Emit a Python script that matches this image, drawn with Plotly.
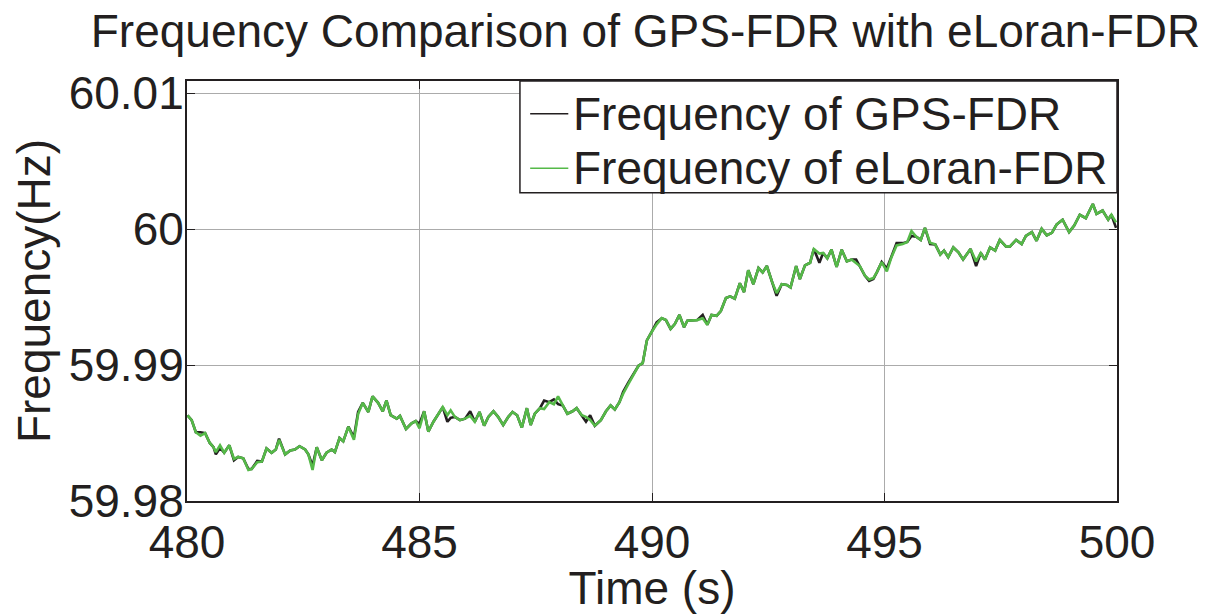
import plotly.graph_objects as go

# Sample times (s) and measured frequencies (Hz) for both recorders
time_s = [
    480.01, 480.10, 480.19, 480.29, 480.39, 480.49, 480.57, 480.62, 480.71, 480.80,
    480.91, 481.01, 481.10, 481.21, 481.32, 481.39, 481.51, 481.61, 481.71, 481.82,
    481.91, 481.98, 482.11, 482.22, 482.32, 482.42, 482.54, 482.61, 482.70, 482.79,
    482.90, 483.00, 483.11, 483.18, 483.28, 483.36, 483.47, 483.59, 483.68, 483.78,
    483.90, 483.99, 484.11, 484.21, 484.29, 484.38, 484.51, 484.58, 484.71, 484.83,
    484.92, 485.00, 485.10, 485.19, 485.30, 485.40, 485.50, 485.60, 485.67, 485.76,
    485.87, 485.98, 486.09, 486.19, 486.29, 486.39, 486.48, 486.59, 486.69, 486.80,
    486.91, 487.00, 487.10, 487.20, 487.31, 487.39, 487.48, 487.59, 487.68, 487.79,
    487.89, 487.98, 488.08, 488.18, 488.29, 488.38, 488.49, 488.58, 488.67, 488.77,
    488.90, 489.01, 489.11, 489.20, 489.30, 489.38, 489.49, 489.60, 489.71, 489.80,
    489.89, 489.99, 490.10, 490.21, 490.30, 490.40, 490.49, 490.59, 490.69, 490.76,
    490.88, 490.97, 491.09, 491.19, 491.28, 491.39, 491.48, 491.59, 491.68, 491.78,
    491.89, 491.98, 492.07, 492.18, 492.29, 492.38, 492.47, 492.58, 492.68, 492.79,
    492.90, 492.98, 493.10, 493.18, 493.29, 493.40, 493.48, 493.60, 493.68, 493.77,
    493.86, 493.97, 494.08, 494.19, 494.29, 494.39, 494.47, 494.58, 494.67, 494.76,
    494.84, 494.94, 495.05, 495.15, 495.26, 495.39, 495.49, 495.58, 495.68, 495.78,
    495.87, 495.98, 496.09, 496.20, 496.28, 496.37, 496.48, 496.59, 496.69, 496.85,
    496.97, 497.07, 497.16, 497.27, 497.38, 497.48, 497.61, 497.70, 497.83, 497.95,
    498.04, 498.17, 498.27, 498.38, 498.49, 498.60, 498.70, 498.83, 498.97, 499.08,
    499.20, 499.33, 499.48, 499.56, 499.69, 499.81, 499.88, 499.98,
]

gps_fdr_hz = [
    59.98631, 59.98595, 59.98506, 59.98506, 59.98499, 59.98427, 59.98396, 59.98343, 59.98390, 59.98355,
    59.98410, 59.98300, 59.98324, 59.98314, 59.98235, 59.98235, 59.98295, 59.98290, 59.98386, 59.98355,
    59.98379, 59.98458, 59.98343, 59.98372, 59.98379, 59.98403, 59.98379, 59.98343, 59.98259, 59.98396,
    59.98300, 59.98355, 59.98379, 59.98360, 59.98463, 59.98439, 59.98547, 59.98468, 59.98655, 59.98722,
    59.98655, 59.98770, 59.98722, 59.98660, 59.98739, 59.98631, 59.98606, 59.98626, 59.98530, 59.98571,
    59.98588, 59.98568, 59.98660, 59.98511, 59.98583, 59.98642, 59.98691, 59.98583, 59.98612, 59.98619,
    59.98595, 59.98606, 59.98660, 59.98583, 59.98655, 59.98554, 59.98619, 59.98660, 59.98619, 59.98559,
    59.98619, 59.98655, 59.98631, 59.98540, 59.98683, 59.98559, 59.98642, 59.98683, 59.98739, 59.98727,
    59.98748, 59.98712, 59.98703, 59.98642, 59.98660, 59.98683, 59.98631, 59.98583, 59.98631, 59.98554,
    59.98595, 59.98660, 59.98703, 59.98674, 59.98727, 59.98804, 59.98871, 59.98930, 59.98995, 59.99014,
    59.99182, 59.99242, 59.99314, 59.99345, 59.99331, 59.99266, 59.99302, 59.99369, 59.99278, 59.99326,
    59.99331, 59.99331, 59.99369, 59.99297, 59.99369, 59.99362, 59.99398, 59.99494, 59.99506, 59.99489,
    59.99602, 59.99537, 59.99698, 59.99595, 59.99714, 59.99681, 59.99729, 59.99614, 59.99510, 59.99595,
    59.99590, 59.99571, 59.99729, 59.99633, 59.99734, 59.99753, 59.99854, 59.99753, 59.99825, 59.99786,
    59.99849, 59.99722, 59.99849, 59.99763, 59.99777, 59.99777, 59.99729, 59.99657, 59.99619, 59.99633,
    59.99686, 59.99758, 59.99710, 59.99794, 59.99897, 59.99897, 59.99906, 59.99950, 59.99945, 59.99921,
    60.00009, 59.99890, 59.99888, 59.99814, 59.99842, 59.99794, 59.99865, 59.99829, 59.99777, 59.99854,
    59.99729, 59.99825, 59.99777, 59.99865, 59.99842, 59.99921, 59.99873, 59.99873, 59.99921, 59.99890,
    59.99950, 59.99978, 59.99914, 60.00002, 59.99955, 59.99973, 60.00034, 60.00070, 59.99978, 60.00027,
    60.00106, 60.00081, 60.00185, 60.00113, 60.00137, 60.00070, 60.00106, 60.00009,
]

eloran_fdr_hz = [
    59.98631, 59.98595, 59.98506, 59.98480, 59.98499, 59.98427, 59.98396, 59.98360, 59.98410, 59.98355,
    59.98410, 59.98310, 59.98324, 59.98314, 59.98228, 59.98235, 59.98285, 59.98290, 59.98386, 59.98355,
    59.98379, 59.98450, 59.98343, 59.98372, 59.98379, 59.98403, 59.98379, 59.98343, 59.98228, 59.98396,
    59.98300, 59.98355, 59.98379, 59.98360, 59.98463, 59.98439, 59.98547, 59.98450, 59.98640, 59.98722,
    59.98655, 59.98770, 59.98722, 59.98660, 59.98739, 59.98631, 59.98606, 59.98626, 59.98530, 59.98571,
    59.98588, 59.98535, 59.98660, 59.98511, 59.98583, 59.98642, 59.98691, 59.98631, 59.98667, 59.98619,
    59.98595, 59.98606, 59.98626, 59.98583, 59.98655, 59.98554, 59.98619, 59.98660, 59.98619, 59.98559,
    59.98619, 59.98655, 59.98631, 59.98540, 59.98683, 59.98559, 59.98642, 59.98683, 59.98676, 59.98727,
    59.98712, 59.98770, 59.98703, 59.98642, 59.98660, 59.98683, 59.98631, 59.98619, 59.98597, 59.98554,
    59.98595, 59.98660, 59.98703, 59.98674, 59.98727, 59.98790, 59.98860, 59.98930, 59.98995, 59.99014,
    59.99182, 59.99242, 59.99300, 59.99345, 59.99331, 59.99266, 59.99302, 59.99369, 59.99278, 59.99326,
    59.99331, 59.99331, 59.99345, 59.99297, 59.99369, 59.99362, 59.99398, 59.99494, 59.99506, 59.99489,
    59.99602, 59.99537, 59.99698, 59.99595, 59.99714, 59.99681, 59.99729, 59.99614, 59.99530, 59.99595,
    59.99590, 59.99571, 59.99729, 59.99633, 59.99734, 59.99753, 59.99854, 59.99820, 59.99825, 59.99786,
    59.99849, 59.99722, 59.99849, 59.99763, 59.99777, 59.99753, 59.99729, 59.99657, 59.99630, 59.99640,
    59.99686, 59.99758, 59.99690, 59.99794, 59.99880, 59.99890, 59.99906, 59.99986, 59.99945, 59.99921,
    60.00009, 59.99901, 59.99888, 59.99814, 59.99842, 59.99794, 59.99865, 59.99829, 59.99777, 59.99854,
    59.99763, 59.99825, 59.99777, 59.99865, 59.99842, 59.99921, 59.99873, 59.99873, 59.99921, 59.99890,
    59.99950, 59.99978, 59.99914, 60.00002, 59.99955, 59.99973, 60.00034, 60.00070, 59.99978, 60.00027,
    60.00106, 60.00081, 60.00185, 60.00113, 60.00137, 60.00070, 60.00106, 60.00050,
]

x_ticks = [480, 485, 490, 495, 500]
y_ticks = [59.98, 59.99, 60.0, 60.01]
y_tick_labels = ["59.98", "59.99", "60", "60.01"]
series_names = ["Frequency of GPS-FDR", "Frequency of eLoran-FDR"]
series_colors = ["#231f20", "#55b948"]

INK = "#231f20"
FONT = "Liberation Sans, Arial, Helvetica, sans-serif"

fig = go.Figure()
for name, color, values in zip(series_names, series_colors, [gps_fdr_hz, eloran_fdr_hz]):
    fig.add_trace(go.Scatter(
        x=time_s, y=values, mode="lines", name=name,
        line=dict(color=color, width=2.6), showlegend=False,
    ))

axis_common = dict(
    showline=True, linecolor=INK, linewidth=2, mirror="ticks",
    showgrid=True, gridcolor="#ababab", gridwidth=1,
    ticks="inside", ticklen=8, tickcolor=INK, tickwidth=1,
    tickfont=dict(family=FONT, size=46, color=INK),
    zeroline=False,
)

# Compact boxed legend in the upper right of the axes (paper coordinates)
legend_box = dict(x0=0.358, x1=1.0, y0=0.734, y1=1.0)
legend_rows_y = [0.922, 0.792]
shapes = [dict(
    type="rect", xref="paper", yref="paper",
    fillcolor="white", line=dict(color=INK, width=1.5), layer="above",
    **legend_box,
)]
annotations = []
for name, color, row_y in zip(series_names, series_colors, legend_rows_y):
    shapes.append(dict(
        type="line", xref="paper", yref="paper", layer="above",
        x0=0.369, x1=0.410, y0=row_y, y1=row_y,
        line=dict(color=color, width=1.5),
    ))
    annotations.append(dict(
        text=name, xref="paper", yref="paper", x=0.413, y=row_y,
        xanchor="left", yanchor="middle", showarrow=False,
        font=dict(family=FONT, size=46, color=INK),
    ))

fig.update_layout(
    width=1211, height=614,
    paper_bgcolor="white", plot_bgcolor="white",
    margin=dict(l=187, r=94, t=81, b=101),
    font=dict(family=FONT, color=INK),
    title=dict(
        text="Frequency Comparison of GPS-FDR with eLoran-FDR",
        font=dict(family=FONT, size=46, color=INK),
        x=0.533, xanchor="center", y=0.95, yanchor="middle",
    ),
    xaxis=dict(
        range=[480, 500], tickvals=x_ticks,
        title=dict(text="Time (s)", font=dict(family=FONT, size=46, color=INK), standoff=2),
        **axis_common,
    ),
    yaxis=dict(
        range=[59.98, 60.0109], tickvals=y_ticks, ticktext=y_tick_labels,
        ticklabelstandoff=-8,
        title=dict(text="Frequency(Hz)", font=dict(family=FONT, size=46, color=INK), standoff=4),
        **axis_common,
    ),
    shapes=shapes,
    annotations=annotations,
)

fig.write_html("out.html")
